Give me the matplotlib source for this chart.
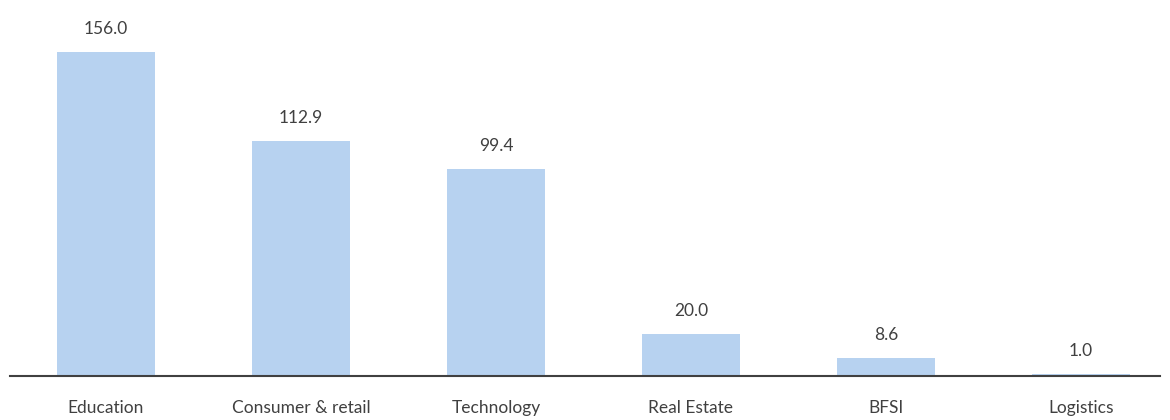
import matplotlib
matplotlib.use('Agg')
from matplotlib import pyplot as plt

# sector values
sectors = ['Education', 'Consumer & retail', 'Technology', 'Real Estate', 'BFSI', 'Logistics']
values = [156.0, 112.9, 99.4, 20.0, 8.6, 1.0]

plt.rcParams['font.family'] = ['Lato', 'DejaVu Sans']

fig = plt.figure(figsize=(11.7, 4.2), dpi=100)
ax = fig.add_axes([10 / 1170, 44 / 420, 1150 / 1170, 374 / 420])

x = list(range(len(sectors)))
bars = ax.bar(x, values, width=0.5, color='#B7D2F0')

for b, v in zip(bars, values):
    ax.annotate(f'{v:.1f}', (b.get_x() + b.get_width() / 2, v),
                xytext=(0, 11), textcoords='offset points',
                ha='center', va='bottom', fontsize=12.5, color='#404040')

ax.set_xlim(-0.492, 5.405)
ax.set_ylim(0, 180)
ax.set_xticks(x)
ax.set_xticklabels(sectors, fontsize=12.5, color='#404040')
ax.tick_params(axis='x', length=0, pad=17)
ax.set_yticks([])
for s in ['top', 'right', 'left']:
    ax.spines[s].set_visible(False)
ax.spines['bottom'].set_color('#404040')
ax.spines['bottom'].set_linewidth(1.5)

fig.savefig('out.png', dpi=100)
